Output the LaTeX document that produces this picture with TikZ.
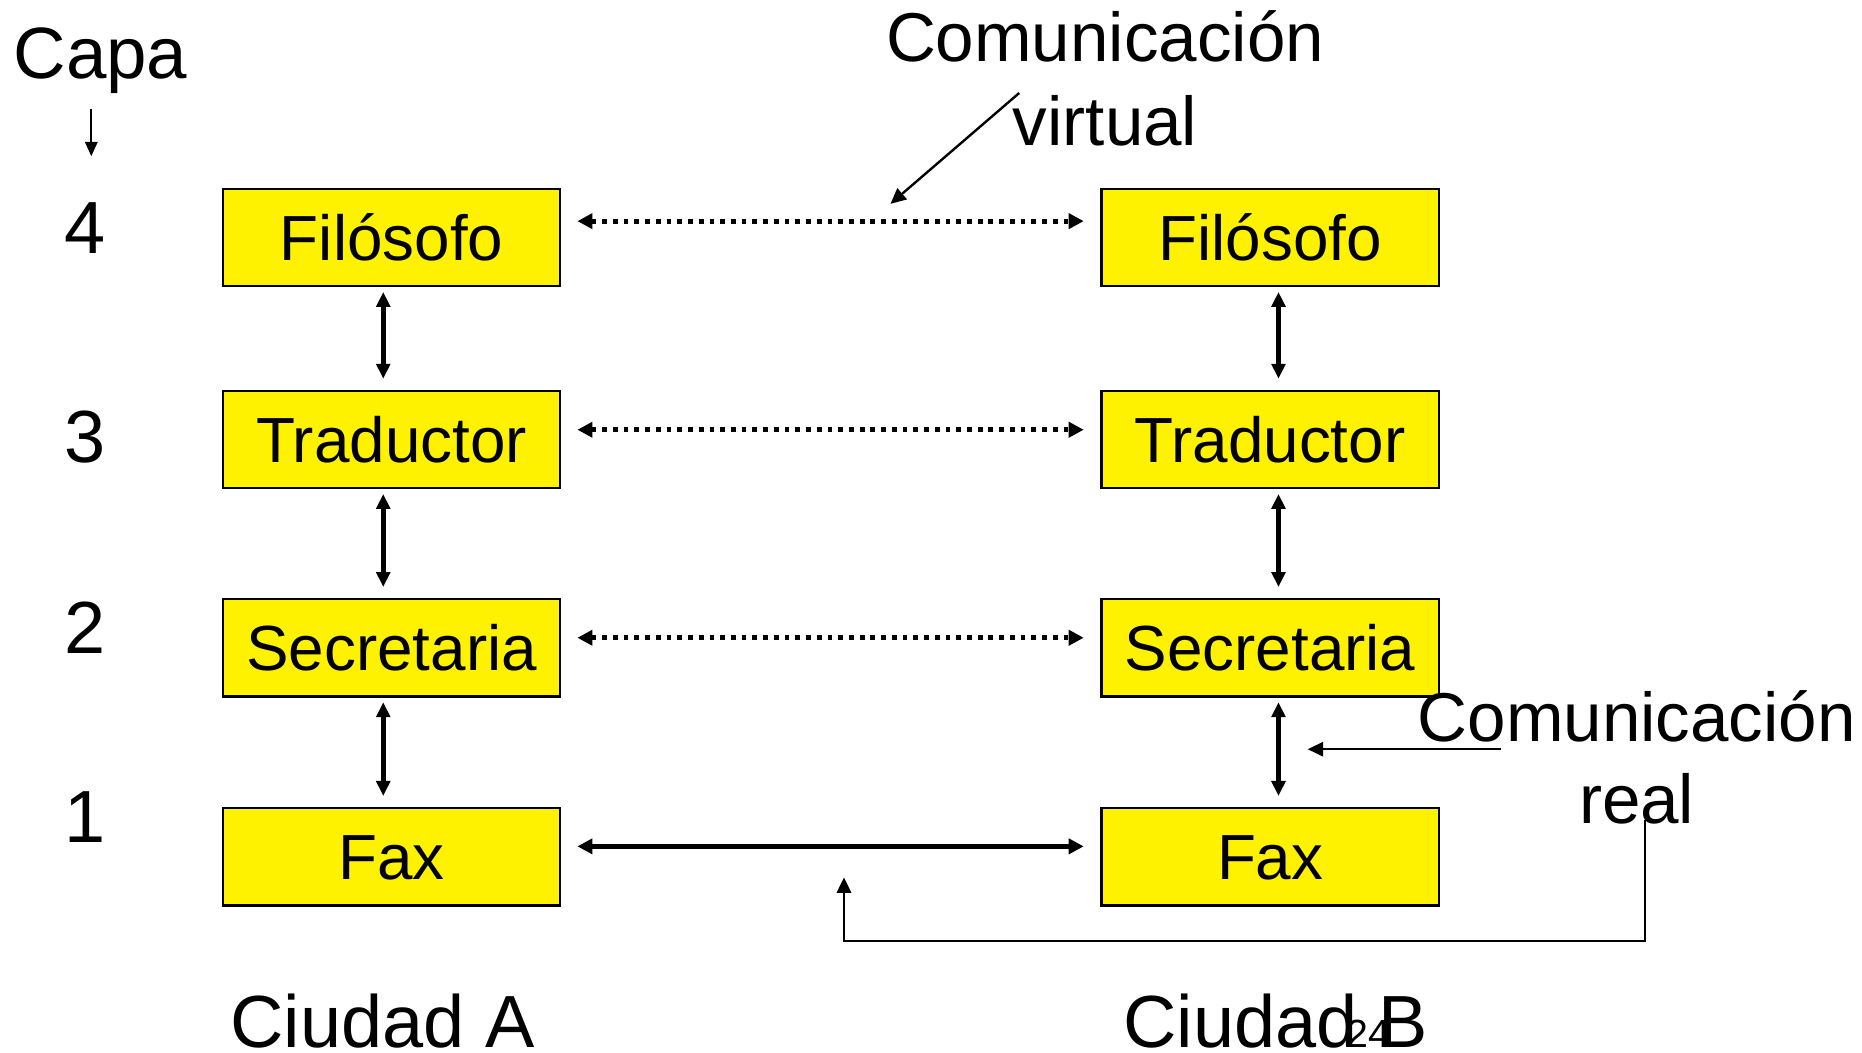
\documentclass[tikz,border=0pt]{standalone}
\usepackage{fontspec}
\setmainfont{Liberation Sans}
\usetikzlibrary{arrows.meta}
\tikzset{
  layerbox/.style={draw=black, line width=1.8pt, fill=yellow, minimum width=283pt, minimum height=81.5pt,
    inner sep=0pt, font=\fontsize{53.5}{64}\selectfont, text height=38.3pt, text depth=0pt},
  bigtext/.style={anchor=base, inner sep=0pt, font=\fontsize{62}{74}\selectfont},
  captext/.style={anchor=base, inner sep=0pt, font=\fontsize{61}{73}\selectfont},
  midtext/.style={anchor=base, inner sep=0pt, font=\fontsize{58}{70}\selectfont},
  numtext/.style={anchor=base, inner sep=0pt, font=\fontsize{33}{40}\selectfont},
  vlink/.style={line width=3.8pt, {Triangle[length=12.5pt,width=11.5pt]}-{Triangle[length=12.5pt,width=11.5pt]},
    shorten <=4pt, shorten >=9.5pt},
  dotlink/.style={line width=4pt, dash pattern=on 4pt off 5pt,
    {Triangle[length=12.6pt,width=12.6pt]}-{Triangle[length=12.6pt,width=12.6pt]},
    shorten <=13.5pt, shorten >=14pt},
  solidlink/.style={line width=4pt,
    {Triangle[length=12.6pt,width=12.6pt]}-{Triangle[length=12.6pt,width=12.6pt]},
    shorten <=13.5pt, shorten >=14pt},
  thinarrow/.style={line width=2pt, -{Triangle[length=13pt,width=12pt]}},
}
\begin{document}
\begin{tikzpicture}[x=1pt,y=-1pt]
\useasboundingbox (0,0) rectangle (1562,883);

% layer column
\node[captext] (capa) at (84.3,65.7) {Capa};
\coordinate (ca0) at (76.6,91.7);
\coordinate (ca1) at (76.6,131);
\draw[line width=1.6pt, -{Triangle[length=12pt,width=10.5pt]}] (ca0) -- (ca1);
\node[bigtext] (n4) at (71,212.5) {4};
\node[bigtext] (n3) at (71,387.8) {3};
\node[bigtext] (n2) at (71,548.5) {2};
\node[bigtext] (n1) at (71,706.5) {1};

% boxes
\node[layerbox] (lf) at (328.5,199.3) {Filósofo};
\node[layerbox] (lt) at (328.5,368.8) {Traductor};
\node[layerbox] (ls) at (328.5,543.5) {Secretaria};
\node[layerbox] (lx) at (328.5,718.8) {Fax};
\node[layerbox] (rf) at (1065.5,199.3) {Filósofo};
\node[layerbox] (rt) at (1065.5,368.8) {Traductor};
\node[layerbox] (rs) at (1065.5,543.5) {Secretaria};
\node[layerbox] (rx) at (1065.5,718.8) {Fax};

% vertical links
\draw[vlink] (lf.south -| 321.5,0) -- (lt.north -| 321.5,0);
\draw[vlink] (lt.south -| 321.5,0) -- (ls.north -| 321.5,0);
\draw[vlink] (ls.south -| 321.5,0) -- (lx.north -| 321.5,0);
\draw[vlink] (rf.south -| 1072.5,0) -- (rt.north -| 1072.5,0);
\draw[vlink] (rt.south -| 1072.5,0) -- (rs.north -| 1072.5,0);
\draw[vlink] (rs.south -| 1072.5,0) -- (rx.north -| 1072.5,0);

% horizontal links
\draw[dotlink] ([yshift=13.8pt]lf.east) -- ([yshift=13.8pt]rf.west);
\draw[dotlink] ([yshift=8.3pt]lt.east) -- ([yshift=8.3pt]rt.west);
\draw[dotlink] ([yshift=8.5pt]ls.east) -- ([yshift=8.5pt]rs.west);
\draw[solidlink] ([yshift=8.8pt]lx.east) -- ([yshift=8.8pt]rx.west);

% virtual communication label
\node[midtext] (cv1) at (927,51.7) {Comunicación};
\node[midtext] (cv2) at (927,121.7) {virtual};
\coordinate (v0) at (855,78);
\coordinate (v1) at (747,171);
\draw[thinarrow] (v0) -- (v1);

% real communication label
\node[midtext] (cr1) at (1373,622) {Comunicación};
\node[midtext] (cr2) at (1373,691) {real};
\coordinate (r0) at (1259,628.5);
\coordinate (r1) at (1097,628.5);
\draw[thinarrow] (r0) -- (r1);
\coordinate (b0) at (1380,688);
\coordinate (bc) at (1380,789.5);
\coordinate (b1) at (708,736);
\draw[thinarrow] (b0) -- (bc) -| (b1);

% cities
\node[bigtext] (ca) at (321,879) {Ciudad A};
\node[bigtext] (cb) at (1070,878.5) {Ciudad B};
\node[numtext] (pg) at (1148,878.5) {24};
\end{tikzpicture}
\end{document}
